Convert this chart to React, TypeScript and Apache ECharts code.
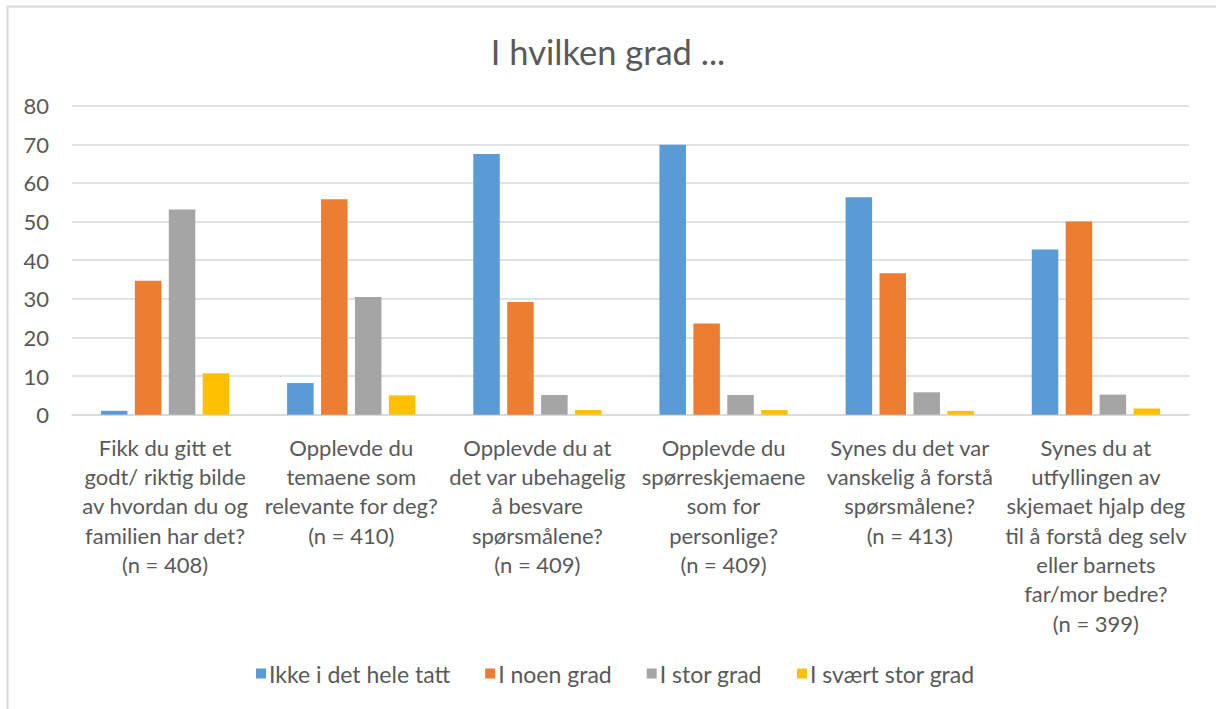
import React, { useEffect, useRef } from "react";
import * as echarts from "echarts";

const categories = [
  "Fikk du gitt et\ngodt/ riktig bilde\nav hvordan du og\nfamilien har det?\n(n = 408)",
  "Opplevde du\ntemaene som\nrelevante for deg?\n(n = 410)",
  "Opplevde du at\ndet var ubehagelig\nå besvare\nspørsmålene?\n(n = 409)",
  "Opplevde du\nspørreskjemaene\nsom for\npersonlige?\n(n = 409)",
  "Synes du det var\nvanskelig å forstå\nspørsmålene?\n(n = 413)",
  "Synes du at\nutfyllingen av\nskjemaet hjalp deg\ntil å forstå deg selv\neller barnets\nfar/mor bedre?\n(n = 399)",
];

const seriesNames = ["Ikke i det hele tatt", "I noen grad", "I stor grad", "I svært stor grad"];
const ikkeIDetHeleTatt = [1.0, 8.2, 67.5, 69.9, 56.3, 42.8];
const iNoenGrad = [34.7, 55.8, 29.2, 23.6, 36.6, 50.0];
const iStorGrad = [53.1, 30.5, 5.1, 5.1, 5.8, 5.2];
const iSvaertStorGrad = [10.7, 5.0, 1.2, 1.2, 1.0, 1.6];
const colors = ["#5B9BD5", "#ED7D31", "#A5A5A5", "#FFC000"];
const titleText = "I hvilken grad ...";

const FONT = "Lato, 'Open Sans', sans-serif";
const TEXT = "#595959";

export default function App() {
  const ref = useRef<HTMLDivElement>(null);
  useEffect(() => {
    if (!ref.current) return;
    const chart = echarts.init(ref.current, null, { renderer: "svg" });
    const data = [ikkeIDetHeleTatt, iNoenGrad, iStorGrad, iSvaertStorGrad];
    chart.setOption({
      animation: false,
      backgroundColor: "#ffffff",
      textStyle: { fontFamily: FONT },
      title: {
        text: titleText,
        left: "center",
        top: 29,
        textStyle: { fontFamily: FONT, fontSize: 34.5, fontWeight: "normal", color: TEXT },
      },
      graphic: [
        {
          type: "rect",
          shape: { x: 7.5, y: 6.5, width: 1300, height: 800 },
          style: { fill: "none", stroke: "#d9d9d9", lineWidth: 2 },
          silent: true,
        },
      ],
      legend: {
        top: 662,
        left: 256,
        padding: 0,
        itemWidth: 10,
        itemHeight: 10,
        itemGap: 35,
        icon: "rect",
        textStyle: { fontFamily: FONT, fontSize: 23, color: TEXT, padding: [0, 0, 0, -2] },
        data: seriesNames,
      },
      grid: { left: 72, right: 27, top: 105.7, bottom: 709 - 414.7, containLabel: false },
      xAxis: {
        type: "category",
        data: categories,
        axisLine: { show: true, lineStyle: { color: "#d9d9d9", width: 1.5 } },
        axisTick: { show: false },
        axisLabel: {
          interval: 0,
          margin: 18,
          fontFamily: FONT,
          fontSize: 22,
          lineHeight: 29.3,
          color: TEXT,
          align: "center",
        },
      },
      yAxis: {
        type: "value",
        min: 0,
        max: 80,
        interval: 10,
        axisLine: { show: false },
        axisTick: { show: false },
        splitLine: { lineStyle: { color: "#d9d9d9", width: 1.5 } },
        axisLabel: { fontFamily: FONT, fontSize: 22, color: TEXT, margin: 23 },
      },
      series: seriesNames.map((name, i) => ({
        name,
        type: "bar",
        data: data[i],
        barWidth: 26.5,
        barGap: "28%",
        itemStyle: { color: colors[i] },
      })),
    });
    return () => chart.dispose();
  }, []);
  return (
    <div
      ref={ref}
      style={{ position: "fixed", left: 0, top: 0, width: 1216, height: 709, background: "#fff" }}
    />
  );
}
